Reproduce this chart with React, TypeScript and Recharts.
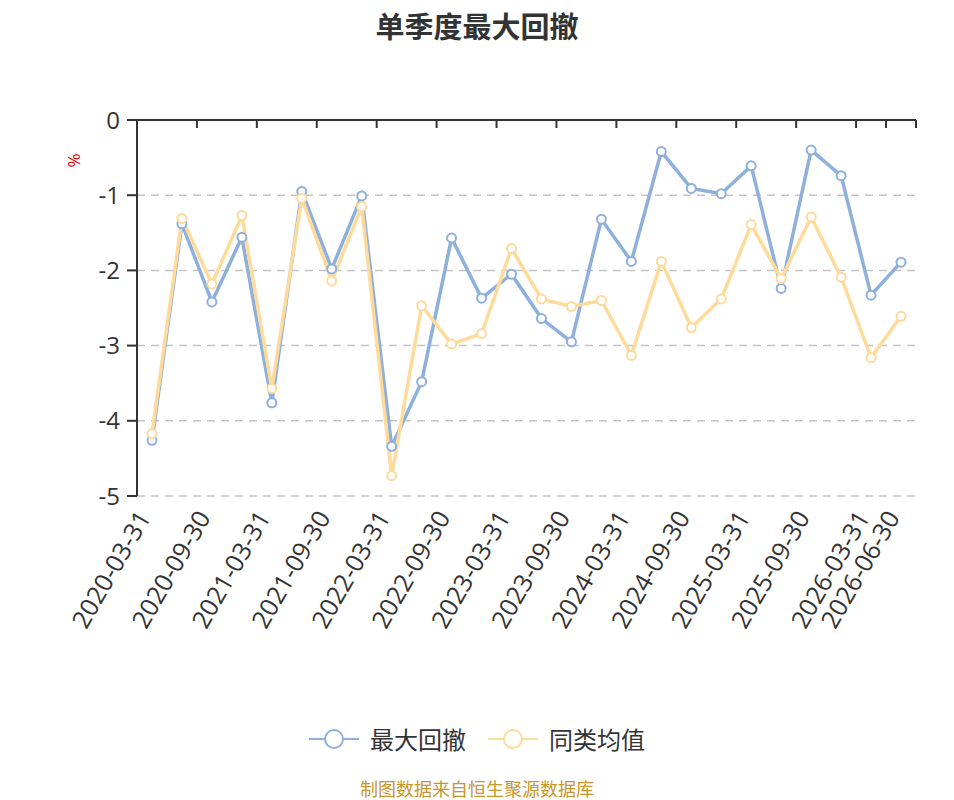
import React from 'react';
import { LineChart, Line, XAxis, YAxis, CartesianGrid } from 'recharts';

// 季度末日期
const dates = [
  '2020-03-31', '2020-06-30', '2020-09-30', '2020-12-31',
  '2021-03-31', '2021-06-30', '2021-09-30', '2021-12-31',
  '2022-03-31', '2022-06-30', '2022-09-30', '2022-12-31',
  '2023-03-31', '2023-06-30', '2023-09-30', '2023-12-31',
  '2024-03-31', '2024-06-30', '2024-09-30', '2024-12-31',
  '2025-03-31', '2025-06-30', '2025-09-30', '2025-12-31',
  '2026-03-31', '2026-06-30',
];

// 最大回撤 (%)
const maxDrawdown = [
  -4.26, -1.38, -2.42, -1.56, -3.76, -0.95, -1.98, -1.01,
  -4.34, -3.48, -1.57, -2.37, -2.05, -2.64, -2.95, -1.32,
  -1.88, -0.42, -0.91, -0.98, -0.61, -2.24, -0.40, -0.74,
  -2.33, -1.89,
];

// 同类均值 (%)
const peerAverage = [
  -4.17, -1.31, -2.18, -1.27, -3.57, -1.04, -2.14, -1.15,
  -4.73, -2.47, -2.98, -2.84, -1.71, -2.38, -2.48, -2.40,
  -3.13, -1.88, -2.76, -2.38, -1.39, -2.11, -1.29, -2.09,
  -3.16, -2.61,
];

const yTicks = [0, -1, -2, -3, -4, -5];

const BLUE = '#8eb0dc';
const YELLOW = '#fedb9b';
const FONT = '"Open Sans", "Noto Sans CJK SC", sans-serif';

const W = 954;
const H = 800;
const MARGIN = { top: 119, right: 38, bottom: 154, left: 0 };
const Y_AXIS_W = 137;
const STEP = (W - MARGIN.right - Y_AXIS_W) / dates.length;

const data = dates.map((d, i) => ({ date: d, max: maxDrawdown[i], avg: peerAverage[i] }));

const showLabel = (i: number) => i % 2 === 0 || i === dates.length - 1;

function TopTick(props: any) {
  const { x, y, index } = props;
  if (!showLabel(index)) return null;
  const h = STEP / 2;
  return (
    <g>
      <line x1={x - h} x2={x - h} y1={y} y2={y + 8} stroke="#333" strokeWidth={2} />
      {index === dates.length - 1 && (
        <line x1={x + h} x2={x + h} y1={y} y2={y + 8} stroke="#333" strokeWidth={2} />
      )}
    </g>
  );
}

function BottomTick(props: any) {
  const { x, y, index, payload } = props;
  if (!showLabel(index)) return null;
  const tx = x - 8;
  const ty = y + 9;
  return (
    <text
      x={tx}
      y={ty}
      dy="0.35em"
      transform={`rotate(-60 ${tx} ${ty})`}
      textAnchor="end"
      fontSize={25}
      fill="#333"
      fontFamily={FONT}
    >
      {payload.value}
    </text>
  );
}

function LegendIcon({ color }: { color: string }) {
  return (
    <svg width={50} height={24}>
      <line x1={0} x2={50} y1={12} y2={12} stroke={color} strokeWidth={2} />
      <circle cx={25} cy={12} r={9} fill="#fff" stroke={color} strokeWidth={2} />
    </svg>
  );
}

export default function App() {
  return (
    <div style={{ position: 'absolute', left: 0, top: 0, width: W, height: H, fontFamily: FONT, background: '#fff', overflow: 'hidden' }}>
      <div style={{ position: 'absolute', top: 4, width: W, textAlign: 'center', fontSize: 29, fontWeight: 'bold', color: '#333' }}>
        单季度最大回撤
      </div>
      <div style={{ position: 'absolute', left: 66, top: 149, fontSize: 17, color: '#e00', transform: 'rotate(-90deg)' }}>
        %
      </div>
      <LineChart width={W} height={H} data={data} margin={MARGIN}>
        <CartesianGrid vertical={false} stroke="#c4c4c4" strokeWidth={1.5} strokeDasharray="8 6" xAxisId="bottom" />
        <XAxis
          xAxisId="top"
          orientation="top"
          dataKey="date"
          height={1}
          interval={0}
          padding={{ left: STEP / 2, right: STEP / 2 }}
          axisLine={{ stroke: '#333', strokeWidth: 2 }}
          tickLine={false}
          tickSize={0}
          tickMargin={0}
          tick={(p: any) => <TopTick {...p} />}
        />
        <XAxis
          xAxisId="bottom"
          dataKey="date"
          height={150}
          interval={0}
          padding={{ left: STEP / 2, right: STEP / 2 }}
          axisLine={false}
          tickLine={false}
          tickSize={0}
          tickMargin={8}
          tick={(p: any) => <BottomTick {...p} />}
        />
        <YAxis
          width={Y_AXIS_W}
          domain={[-5, 0]}
          ticks={yTicks}
          interval={0}
          axisLine={{ stroke: '#333', strokeWidth: 2 }}
          tickLine={{ stroke: '#333', strokeWidth: 2 }}
          tickSize={10}
          tickMargin={7}
          tick={{ fontSize: 24, fill: '#333', fontFamily: FONT }}
        />
        <Line
          xAxisId="bottom"
          dataKey="max"
          name="最大回撤"
          stroke={BLUE}
          strokeWidth={3.5}
          dot={{ r: 4.5, fill: '#fff', stroke: BLUE, strokeWidth: 2 }}
          activeDot={false}
          isAnimationActive={false}
        />
        <Line
          xAxisId="bottom"
          dataKey="avg"
          name="同类均值"
          stroke={YELLOW}
          strokeWidth={3.5}
          dot={{ r: 4.5, fill: '#fff', stroke: YELLOW, strokeWidth: 2 }}
          activeDot={false}
          isAnimationActive={false}
        />
      </LineChart>
      <div style={{ position: 'absolute', top: 721, width: W, display: 'flex', justifyContent: 'center', alignItems: 'center', fontSize: 24, color: '#333' }}>
        <LegendIcon color={BLUE} />
        <span style={{ marginLeft: 11, marginRight: 22 }}>最大回撤</span>
        <LegendIcon color={YELLOW} />
        <span style={{ marginLeft: 11 }}>同类均值</span>
      </div>
      <div style={{ position: 'absolute', top: 779, width: W, textAlign: 'center', fontSize: 18, lineHeight: '20px', color: '#c8962a' }}>
        制图数据来自恒生聚源数据库
      </div>
    </div>
  );
}
